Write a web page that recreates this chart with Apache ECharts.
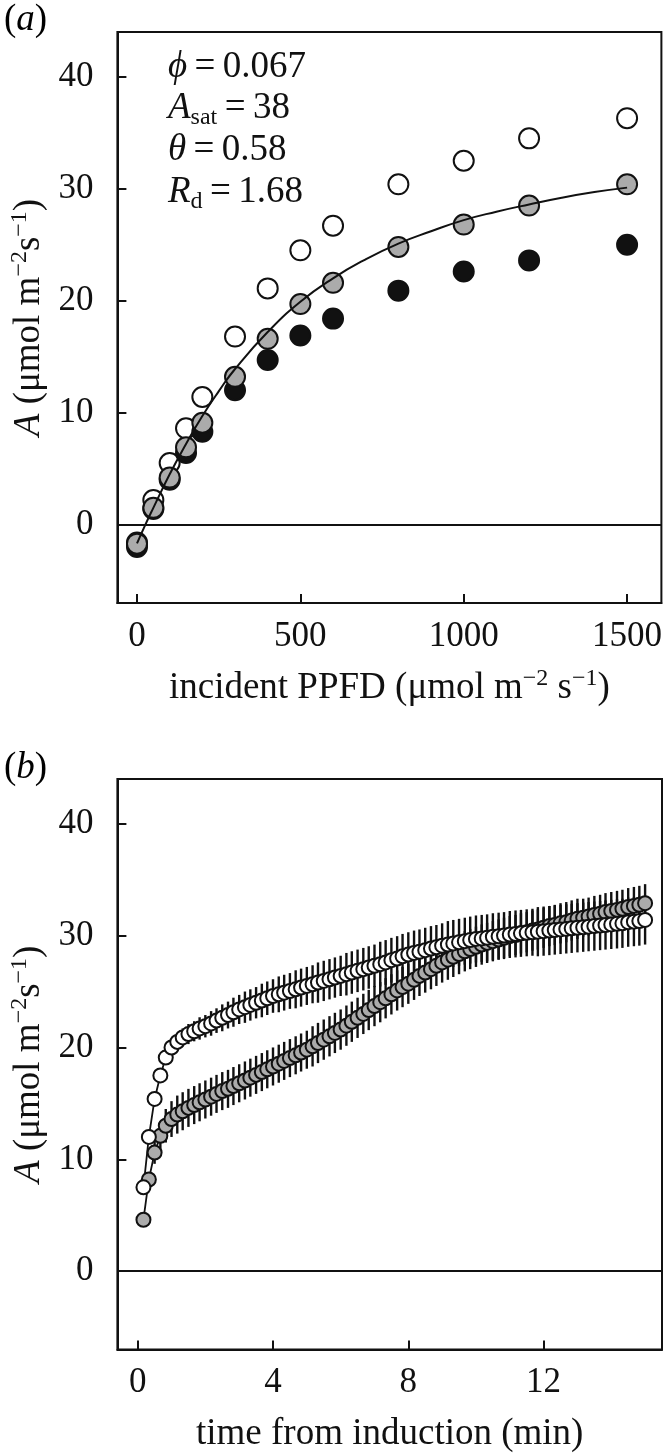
<!DOCTYPE html>
<html>
<head>
<meta charset="utf-8">
<script src="https://cdn.jsdelivr.net/npm/echarts@6/dist/echarts.min.js"></script>
<style>
  html, body { margin: 0; padding: 0; background: #fff; }
  #chart { width: 665px; height: 1454px; }
</style>
</head>
<body>
<div id="chart"></div>
<script>
// panel (a): light response, incident PPFD
const ppfd = [0, 50, 100, 150, 200, 300, 400, 500, 600, 800, 1000, 1200, 1500];
const aOpen = [-1.6, 2.2, 5.5, 8.6, 11.4, 16.8, 21.1, 24.5, 26.7, 30.4, 32.5, 34.5, 36.3];
const aGray = [-1.7, 1.5, 4.2, 6.9, 9.1, 13.2, 16.6, 19.7, 21.6, 24.8, 26.8, 28.5, 30.4];
const aBlack = [-2.0, 1.4, 4.0, 6.4, 8.3, 12.0, 14.7, 16.9, 18.4, 20.9, 22.6, 23.6, 25.0];
// fitted curve
const fitX = [0, 25, 50, 100, 150, 200, 250, 300, 400, 500, 600, 700, 800, 900, 1000, 1100, 1200, 1300, 1400, 1500];
const fitY = [-1.68, -0.04, 1.5, 4.5, 7.2, 9.7, 11.9, 13.9, 17.2, 19.9, 22.0, 23.7, 25.1, 26.2, 27.2, 27.95, 28.6, 29.2, 29.7, 30.1];

// panel (b): induction time course
const times = [0.17, 0.33, 0.5, 0.67, 0.83, 1, 1.17, 1.33, 1.5, 1.67, 1.83, 2, 2.17, 2.33, 2.5, 2.67, 2.83, 3,
  3.17, 3.33, 3.5, 3.67, 3.83, 4, 4.17, 4.33, 4.5, 4.67, 4.83, 5, 5.17, 5.33, 5.5, 5.67, 5.83, 6,
  6.17, 6.33, 6.5, 6.67, 6.83, 7, 7.17, 7.33, 7.5, 7.67, 7.83, 8, 8.17, 8.33, 8.5, 8.67, 8.83, 9,
  9.17, 9.33, 9.5, 9.67, 9.83, 10, 10.17, 10.33, 10.5, 10.67, 10.83, 11, 11.17, 11.33, 11.5, 11.67, 11.83, 12,
  12.17, 12.33, 12.5, 12.67, 12.83, 13, 13.17, 13.33, 13.5, 13.67, 13.83, 14, 14.17, 14.33, 14.5, 14.67, 14.83, 15];
const bOpen = [7.5, 12.0, 15.4, 17.5, 19.1, 20.0, 20.5, 20.9, 21.2, 21.45, 21.7, 21.9, 22.15, 22.4, 22.65, 22.9, 23.15, 23.4,
  23.6, 23.8, 24.0, 24.2, 24.4, 24.6, 24.75, 24.9, 25.05, 25.2, 25.35, 25.5, 25.65, 25.8, 25.95, 26.1, 26.25, 26.4,
  26.55, 26.7, 26.85, 27.0, 27.15, 27.3, 27.45, 27.6, 27.8, 27.95, 28.15, 28.3, 28.45, 28.55, 28.7, 28.85, 28.95, 29.1,
  29.2, 29.3, 29.4, 29.5, 29.6, 29.7, 29.75, 29.8, 29.9, 29.95, 30.0, 30.1, 30.15, 30.2, 30.25, 30.3, 30.35, 30.4,
  30.45, 30.5, 30.55, 30.6, 30.65, 30.7, 30.75, 30.8, 30.85, 30.9, 30.95, 31.0, 31.05, 31.1, 31.2, 31.25, 31.3, 31.4];
const bOpenErr = [0.3, 0.4, 0.5, 0.5, 0.6, 0.7, 0.8, 0.8, 0.9, 0.9, 1.0, 1.0, 1.1, 1.1, 1.2, 1.2, 1.3, 1.3,
  1.4, 1.4, 1.4, 1.5, 1.5, 1.5, 1.6, 1.6, 1.6, 1.7, 1.7, 1.7, 1.7, 1.8, 1.8, 1.8, 1.8, 1.8,
  1.9, 1.9, 1.9, 1.9, 1.9, 1.9, 2.0, 2.0, 2.0, 2.0, 2.0, 2.0, 2.0, 2.0, 2.0, 2.0, 2.0, 2.0,
  2.1, 2.1, 2.1, 2.1, 2.1, 2.1, 2.1, 2.1, 2.1, 2.1, 2.1, 2.1, 2.1, 2.1, 2.1, 2.1, 2.2, 2.2,
  2.2, 2.2, 2.2, 2.2, 2.2, 2.2, 2.2, 2.2, 2.2, 2.2, 2.2, 2.2, 2.2, 2.2, 2.2, 2.2, 2.2, 2.2];
const bGray = [4.6, 8.2, 10.6, 12.1, 13.0, 13.6, 14.0, 14.3, 14.6, 14.85, 15.1, 15.35, 15.6, 15.85, 16.1, 16.3, 16.55, 16.8,
  17.05, 17.3, 17.55, 17.8, 18.05, 18.3, 18.55, 18.8, 19.05, 19.3, 19.55, 19.8, 20.1, 20.4, 20.7, 21.0, 21.3, 21.6,
  21.95, 22.3, 22.65, 23.0, 23.35, 23.7, 24.05, 24.4, 24.75, 25.1, 25.4, 25.7, 26.05, 26.4, 26.7, 27.0, 27.3, 27.6,
  27.85, 28.1, 28.35, 28.6, 28.8, 29.0, 29.2, 29.35, 29.5, 29.65, 29.8, 29.95, 30.05, 30.2, 30.3, 30.45, 30.55, 30.7,
  30.85, 30.95, 31.1, 31.2, 31.35, 31.5, 31.6, 31.7, 31.85, 31.95, 32.1, 32.2, 32.3, 32.4, 32.55, 32.65, 32.75, 32.9];
const bGrayErr = [0.3, 0.6, 1.0, 1.3, 1.5, 1.6, 1.7, 1.7, 1.7, 1.7, 1.7, 1.7, 1.7, 1.7, 1.7, 1.7, 1.7, 1.7,
  1.7, 1.7, 1.7, 1.7, 1.7, 1.7, 1.7, 1.7, 1.7, 1.7, 1.7, 1.7, 1.8, 1.8, 1.8, 1.8, 1.8, 1.8,
  1.8, 1.8, 1.8, 1.8, 1.8, 1.8, 1.8, 1.8, 1.8, 1.8, 1.8, 1.8, 1.8, 1.8, 1.8, 1.8, 1.8, 1.8,
  1.8, 1.8, 1.8, 1.8, 1.8, 1.8, 1.8, 1.8, 1.8, 1.8, 1.8, 1.8, 1.8, 1.8, 1.8, 1.8, 1.8, 1.8,
  1.8, 1.8, 1.8, 1.8, 1.8, 1.8, 1.7, 1.7, 1.7, 1.7, 1.7, 1.7, 1.7, 1.7, 1.7, 1.7, 1.7, 1.7];

const yTicks = [0, 10, 20, 30, 40];
const xTicksA = [0, 500, 1000, 1500];
const xTicksB = [0, 4, 8, 12];

const FONT = '"Liberation Serif", "Times New Roman", serif';
const INK = '#111';
const GRAY = '#ababab';

const zip = (xs, ys) => xs.map((x, i) => [x, ys[i]]);
const bars = (xs, ys, es) => xs.map((x, i) => [x, ys[i] - es[i], ys[i] + es[i]]);

const rich = {
  t: { fontFamily: FONT, fontSize: 37, color: INK, lineHeight: 42 },
  i: { fontFamily: FONT, fontSize: 37, color: INK, lineHeight: 42, fontStyle: 'italic' },
  sup: { fontFamily: FONT, fontSize: 24, color: INK, lineHeight: 30, verticalAlign: 'top' },
  sub: { fontFamily: FONT, fontSize: 24, color: INK, lineHeight: 24, verticalAlign: 'bottom' }
};

function xAxisOf(gridIndex, min, max, ticks, name) {
  return {
    type: 'value', gridIndex, min, max,
    name, nameLocation: 'middle', nameGap: 64,
    nameTextStyle: { rich },
    axisLine: { show: true, onZero: false, lineStyle: { color: INK, width: 2 } },
    axisTick: { inside: true, length: 9, lineStyle: { color: INK, width: 2 }, customValues: ticks },
    axisLabel: { customValues: ticks, margin: 16, fontFamily: FONT, fontSize: 35, color: INK, formatter: v => String(v) },
    splitLine: { show: false }
  };
}
function yAxisOf(gridIndex) {
  return {
    type: 'value', gridIndex, min: -7, max: 44,
    name: '{i|A}{t| (μmol m}{sup|−2}{t|s}{sup|−1}{t|)}',
    nameLocation: 'middle', nameGap: 66,
    nameTextStyle: { rich },
    axisLine: { show: true, onZero: false, lineStyle: { color: INK, width: 2 } },
    axisTick: { inside: true, length: 9, lineStyle: { color: INK, width: 2 }, customValues: yTicks },
    axisLabel: { customValues: yTicks, margin: 24, fontFamily: FONT, fontSize: 35, color: INK, formatter: v => String(v) },
    splitLine: { show: false }
  };
}

const zeroLine = {
  silent: true, symbol: 'none', label: { show: false },
  lineStyle: { color: INK, width: 2, type: 'solid' },
  data: [{ yAxis: 0 }]
};

function errRender(params, api) {
  const p1 = api.coord([api.value(0), api.value(1)]);
  const p2 = api.coord([api.value(0), api.value(2)]);
  return {
    type: 'line',
    shape: { x1: p1[0], y1: p1[1], x2: p2[0], y2: p2[1] },
    style: { stroke: INK, lineWidth: 2.4 }
  };
}

function note(text, y) {
  return { type: 'text', left: 168, top: y, style: { text, rich, font: '37px ' + FONT, fill: INK } };
}

const chart = echarts.init(document.getElementById('chart'), null, { renderer: 'canvas' });
chart.setOption({
  animation: false,
  backgroundColor: '#fff',
  grid: [
    { left: 116, top: 32, width: 546, height: 571, show: true, borderColor: INK, borderWidth: 2, containLabel: false },
    { left: 116, top: 779, width: 546, height: 571, show: true, borderColor: INK, borderWidth: 2, containLabel: false }
  ],
  xAxis: [
    xAxisOf(0, -60, 1605, xTicksA, '{t|incident PPFD (μmol m}{sup|−2}{t| s}{sup|−1}{t|)}'),
    xAxisOf(1, -0.6, 15.5, xTicksB, '{t|time from induction (min)}')
  ],
  yAxis: [yAxisOf(0), yAxisOf(1)],
  graphic: [
    { type: 'text', left: 4, top: 2, style: { text: '{t|(}{i|a}{t|)}', rich, font: '37px ' + FONT } },
    { type: 'text', left: 4, top: 750, style: { text: '{t|(}{i|b}{t|)}', rich, font: '37px ' + FONT } },
    note('{i|ϕ}{t|\u2009=\u20090.067}', 49),
    note('{i|A}{sub|sat}{t|\u2009=\u200938}', 90),
    note('{i|θ}{t|\u2009=\u20090.58}', 132),
    note('{i|R}{sub|d}{t|\u2009=\u20091.68}', 174)
  ],
  series: [
    {
      type: 'scatter', xAxisIndex: 0, yAxisIndex: 0, data: zip(ppfd, aOpen),
      symbolSize: 20, itemStyle: { color: '#fff', borderColor: INK, borderWidth: 2, opacity: 1 },
      markLine: zeroLine
    },
    {
      type: 'scatter', xAxisIndex: 0, yAxisIndex: 0, data: zip(ppfd, aBlack),
      symbolSize: 20, itemStyle: { color: INK, borderColor: INK, borderWidth: 2, opacity: 1 }
    },
    {
      type: 'line', xAxisIndex: 0, yAxisIndex: 0, data: zip(fitX, fitY),
      smooth: true, showSymbol: false, lineStyle: { color: INK, width: 2 }
    },
    {
      type: 'scatter', xAxisIndex: 0, yAxisIndex: 0, data: zip(ppfd, aGray),
      symbolSize: 20, itemStyle: { color: GRAY, borderColor: INK, borderWidth: 2, opacity: 1 }
    },
    {
      type: 'custom', xAxisIndex: 1, yAxisIndex: 1, data: bars(times, bGray, bGrayErr),
      renderItem: errRender, encode: { x: 0, y: [1, 2] }, markLine: zeroLine
    },
    {
      type: 'line', xAxisIndex: 1, yAxisIndex: 1, data: zip(times, bGray),
      symbol: 'circle', symbolSize: 14,
      lineStyle: { color: INK, width: 1.8 },
      itemStyle: { color: GRAY, borderColor: INK, borderWidth: 2 }
    },
    {
      type: 'custom', xAxisIndex: 1, yAxisIndex: 1, data: bars(times, bOpen, bOpenErr),
      renderItem: errRender, encode: { x: 0, y: [1, 2] }
    },
    {
      type: 'line', xAxisIndex: 1, yAxisIndex: 1, data: zip(times, bOpen),
      symbol: 'circle', symbolSize: 14,
      lineStyle: { color: INK, width: 1.8 },
      itemStyle: { color: '#fff', borderColor: INK, borderWidth: 2 }
    }
  ]
});
</script>
</body>
</html>
